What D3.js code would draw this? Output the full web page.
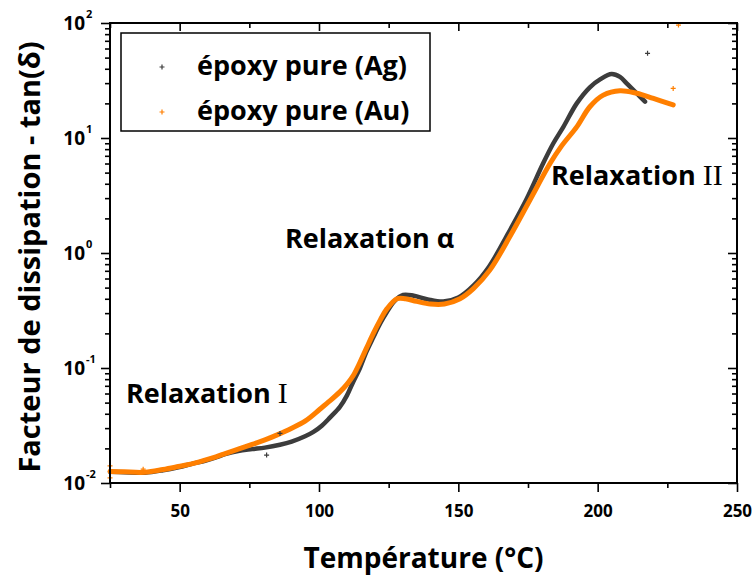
<!DOCTYPE html>
<html><head><meta charset="utf-8">
<script src="https://cdn.jsdelivr.net/npm/d3@7"></script>
<style>
body{margin:0;background:#fff}
svg text{font-family:'Open Sans',Lato,sans-serif;font-weight:bold;fill:#000}
</style>
</head><body>
<svg id="c" width="755" height="579"></svg>
<script>
// ---- data ----
const agTemp = [25, 30, 37.6, 44, 49.5, 55, 59.1, 63, 66.3, 71, 76, 80.6, 86, 90.2, 95, 98, 101, 103.9, 107.5, 110, 112.3, 114.7, 117, 119.5, 122, 124.3, 127, 130.2, 134, 139, 144.6, 150, 155.4, 161, 168, 174.5, 180.4, 184.1, 187.7, 192.5, 197.2, 201, 205, 208, 210.4, 214, 217];
const agTan  = [0.0125, 0.0124, 0.0123, 0.0129, 0.0137, 0.0148, 0.0156, 0.0167, 0.0178, 0.0190, 0.0197, 0.0203, 0.0215, 0.0229, 0.0255, 0.0278, 0.0315, 0.0370, 0.0459, 0.0575, 0.076, 0.100, 0.138, 0.185, 0.245, 0.305, 0.38, 0.432, 0.425, 0.395, 0.378, 0.41, 0.52, 0.76, 1.5, 2.95, 6.0, 9.0, 12.5, 20.0, 27.6, 32.5, 36, 34, 29.9, 24.5, 20.7];
const auTemp = [25, 30, 37.6, 44, 49.5, 55, 59.1, 63, 66.3, 71, 76, 80.6, 85, 90.2, 95, 100.4, 104, 107.5, 110, 112.3, 114.7, 117, 119.5, 122, 124.3, 128, 131, 135, 140, 145, 150.6, 155.4, 161.3, 168.5, 175.7, 182.9, 187, 192.5, 197.2, 202, 208, 214, 220, 227.1];
const auTan  = [0.0126, 0.0125, 0.0124, 0.0131, 0.0139, 0.0148, 0.0158, 0.0169, 0.0180, 0.0197, 0.0217, 0.0237, 0.0262, 0.0299, 0.0345, 0.0440, 0.0520, 0.0620, 0.0720, 0.086, 0.112, 0.148, 0.2, 0.262, 0.325, 0.40, 0.40, 0.38, 0.36, 0.36, 0.40, 0.49, 0.71, 1.39, 2.89, 6.0, 8.5, 12.5, 18.7, 23.6, 25.8, 24.5, 22.1, 19.4];
const agOutTemp = [81.2, 86, 217.9];
const agOutTan  = [0.0175, 0.027, 54.5];
const auOutTemp = [25, 25, 36.9, 227.1, 229];
const auOutTan  = [0.0141, 0.0111, 0.0132, 27.0, 96];

const xMajor = [50, 100, 150, 200, 250];
const xMinor = [25, 75, 125, 175, 225];
const yExp = [-2, -1, 0, 1, 2];
const seriesNames = ["époxy pure (Ag)", "époxy pure (Au)"];
const seriesColors = ["#3c3c3c", "#ff7f00"];

// ---- layout ----
const L = 110, R = 737, T = 23, B = 483;
const svg = d3.select("#c");
const x = d3.scaleLinear().domain([25, 250]).range([L, R]);
const y = d3.scaleLog().domain([0.01, 100]).range([B, T]);

const yMinor = [];
yExp.slice(0, -1).forEach(e => { for (let k = 2; k <= 9; k++) yMinor.push(k * Math.pow(10, e)); });

// curves
const line = d3.line().x(d => x(d[0])).y(d => y(d[1])).curve(d3.curveCatmullRom.alpha(0.5));
const ag = agTemp.map((t, i) => [t, agTan[i]]);
const au = auTemp.map((t, i) => [t, auTan[i]]);
svg.append("path").attr("d", line(ag)).attr("fill", "none").attr("stroke", seriesColors[0]).attr("stroke-width", 4.5).attr("stroke-linecap", "round");
svg.append("path").attr("d", line(au)).attr("fill", "none").attr("stroke", seriesColors[1]).attr("stroke-width", 5).attr("stroke-linecap", "round");

function plus(g, cx, cy, s, col) {
  g.append("path").attr("d", `M${cx - s},${cy}H${cx + s}M${cx},${cy - s}V${cy + s}`).attr("stroke", col).attr("stroke-width", 1.2);
}
agOutTemp.forEach((t, i) => plus(svg, x(t), y(agOutTan[i]), 2.5, seriesColors[0]));
auOutTemp.forEach((t, i) => plus(svg, x(t), y(auOutTan[i]), 2.5, seriesColors[1]));

// axes
const axB = svg.append("g").attr("transform", `translate(0,${B})`);
axB.call(d3.axisBottom(x).tickValues(xMajor).tickSize(9).tickSizeOuter(0).tickFormat(d3.format("d")));
const axBm = svg.append("g").attr("transform", `translate(0,${B})`);
axBm.call(d3.axisBottom(x).tickValues(xMinor).tickSize(5).tickSizeOuter(0).tickFormat(""));
const axT = svg.append("g").attr("transform", `translate(0,${T})`);
axT.call(d3.axisBottom(x).tickValues(xMajor).tickSize(8).tickSizeOuter(0).tickFormat(""));
const axTm = svg.append("g").attr("transform", `translate(0,${T})`);
axTm.call(d3.axisBottom(x).tickValues(xMinor).tickSize(5).tickSizeOuter(0).tickFormat(""));
const axL = svg.append("g").attr("transform", `translate(${L},0)`);
axL.call(d3.axisLeft(y).tickValues(yExp.map(e => Math.pow(10, e))).tickSize(9).tickSizeOuter(0).tickFormat(""));
const axLm = svg.append("g").attr("transform", `translate(${L},0)`);
axLm.call(d3.axisLeft(y).tickValues(yMinor).tickSize(5).tickSizeOuter(0).tickFormat(""));
const axR = svg.append("g").attr("transform", `translate(${R},0)`);
axR.call(d3.axisLeft(y).tickValues(yExp.map(e => Math.pow(10, e))).tickSize(9).tickSizeOuter(0).tickFormat(""));
const axRm = svg.append("g").attr("transform", `translate(${R},0)`);
axRm.call(d3.axisLeft(y).tickValues(yMinor).tickSize(5).tickSizeOuter(0).tickFormat(""));

svg.selectAll(".domain").remove();
svg.selectAll(".tick line").attr("stroke", "#000").attr("stroke-width", 1.6);
axB.selectAll(".tick text").attr("font-size", 17).attr("dy", "1.3em").attr("font-family", "'Open Sans'").attr("font-weight", "bold").attr("fill", "#000");

// frame
svg.append("rect").attr("x", L).attr("y", T).attr("width", R - L).attr("height", B - T)
  .attr("fill", "none").attr("stroke", "#000").attr("stroke-width", 2);

// y tick labels 10^n
yExp.forEach(e => {
  svg.append("text").attr("x", 85).attr("y", y(Math.pow(10, e)) + 7).attr("text-anchor", "end").attr("font-size", 19).text("10");
  svg.append("text").attr("x", 86).attr("y", y(Math.pow(10, e)) - 5).attr("font-size", 11).text(String(e));
});

// legend
svg.append("rect").attr("x", 121).attr("y", 33).attr("width", 309).attr("height", 98)
  .attr("fill", "#fff").attr("stroke", "#000").attr("stroke-width", 1.5);
const legY = [75, 120];
seriesNames.forEach((n, i) => {
  plus(svg, 162, legY[i] - 8, 2.5, seriesColors[i]);
  svg.append("text").attr("x", 197).attr("y", legY[i]).attr("font-size", 27).text(n);
});

// annotations
function relax(xp, yp, tail, serif) {
  const t = svg.append("text").attr("x", xp).attr("y", yp).attr("font-size", 27);
  t.append("tspan").text("Relaxation ");
  t.append("tspan").attr("font-family", serif ? "'Liberation Serif','DejaVu Serif',serif" : null).attr("font-weight", serif ? "normal" : null).attr("font-size", serif ? 30 : null).text(tail);
}
relax(126, 403, "I", true);
relax(285, 248, "α", false);
relax(551, 185, "II", true);

// axis titles
svg.append("text").attr("x", (L + R) / 2).attr("y", 568).attr("text-anchor", "middle").attr("font-size", 28).text("Température (°C)");
svg.append("text").attr("transform", `translate(40,${(T + B) / 2 + 4}) rotate(-90)`).attr("text-anchor", "middle").attr("font-size", 29).text("Facteur de dissipation - tan(δ)");
</script>
</body></html>
